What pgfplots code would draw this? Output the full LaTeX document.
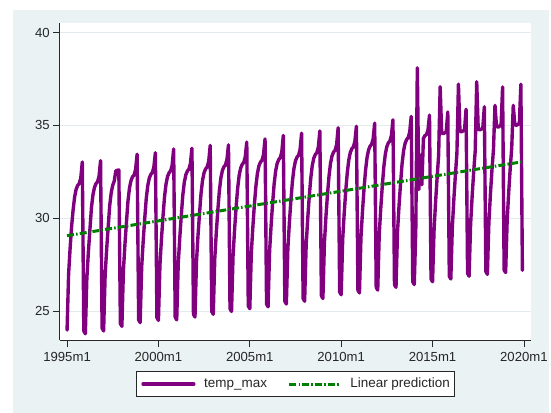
\documentclass[border=0pt]{standalone}
\usepackage{fontspec}
\setmainfont{Liberation Sans}
\usepackage{pgfplots}
\usepackage{pgfplotstable}
\pgfplotsset{compat=1.18}
\definecolor{bgcol}{RGB}{234,242,243}
\definecolor{gridcol}{RGB}{226,236,239}
\definecolor{tspurple}{RGB}{128,0,128}
\definecolor{tsgreen}{RGB}{0,128,0}
\definecolor{axcol}{RGB}{40,40,40}

% monthly temp_max, 1995m1 ... 2019m12 (one year per line)
\pgfplotstableread[row sep=\\]{
v\\
23.98\\26.98\\28.38\\29.58\\30.47\\31.17\\31.57\\31.77\\31.87\\32.17\\33.03\\23.93\\
23.78\\26.78\\28.18\\29.38\\30.56\\31.26\\31.66\\31.86\\31.96\\32.26\\33.10\\24.08\\
23.93\\26.93\\28.33\\29.53\\30.68\\31.38\\31.78\\32.00\\32.55\\32.58\\32.60\\24.33\\
24.18\\27.18\\28.58\\29.78\\30.93\\31.63\\32.03\\32.23\\32.33\\32.63\\33.45\\24.53\\
24.38\\27.38\\28.78\\29.98\\31.06\\31.76\\32.16\\32.36\\32.46\\32.76\\33.53\\24.65\\
24.50\\27.50\\28.90\\30.10\\31.15\\31.85\\32.25\\32.45\\32.55\\32.85\\33.73\\24.68\\
24.53\\27.53\\28.93\\30.13\\31.24\\31.94\\32.34\\32.54\\32.64\\32.94\\33.77\\24.83\\
24.68\\27.68\\29.08\\30.28\\31.36\\32.06\\32.46\\32.66\\32.76\\33.06\\33.92\\24.98\\
24.83\\27.83\\29.23\\30.43\\31.47\\32.17\\32.57\\32.77\\32.87\\33.17\\33.95\\25.13\\
24.98\\27.98\\29.38\\30.58\\31.60\\32.30\\32.70\\32.90\\33.00\\33.30\\34.10\\25.28\\
25.13\\28.13\\29.53\\30.73\\31.72\\32.42\\32.82\\33.02\\33.12\\33.42\\34.27\\25.38\\
25.23\\28.23\\29.63\\30.83\\31.86\\32.56\\32.96\\33.16\\33.26\\33.56\\34.46\\25.53\\
25.38\\28.38\\29.78\\30.98\\31.99\\32.69\\33.09\\33.29\\33.39\\33.69\\34.58\\25.68\\
25.53\\28.53\\29.93\\31.13\\32.13\\32.83\\33.23\\33.43\\33.53\\33.83\\34.70\\25.83\\
25.68\\28.68\\30.08\\31.28\\32.26\\32.96\\33.36\\33.56\\33.66\\33.96\\34.87\\26.03\\
25.88\\28.88\\30.28\\31.48\\32.44\\33.14\\33.54\\33.74\\33.84\\34.14\\34.95\\26.13\\
25.98\\28.98\\30.38\\31.58\\32.58\\33.28\\33.68\\33.88\\33.98\\34.28\\35.12\\26.28\\
26.13\\29.13\\30.53\\31.73\\32.76\\33.46\\33.86\\34.06\\34.16\\34.46\\35.30\\26.43\\
26.28\\29.28\\30.68\\31.88\\32.94\\33.64\\34.04\\34.24\\34.34\\34.64\\35.48\\26.58\\
26.43\\29.40\\38.10\\31.55\\33.40\\31.80\\34.30\\34.45\\34.50\\34.75\\35.55\\26.73\\
26.58\\29.38\\30.88\\32.18\\33.40\\37.08\\34.60\\34.55\\34.60\\34.65\\35.72\\26.88\\
26.73\\29.53\\31.03\\32.33\\33.50\\37.22\\34.70\\34.65\\34.70\\34.75\\35.87\\27.03\\
26.88\\29.68\\31.18\\32.48\\33.60\\37.35\\34.80\\34.75\\34.80\\34.85\\36.00\\27.13\\
26.98\\29.78\\31.28\\32.58\\33.70\\36.08\\34.96\\34.90\\34.96\\35.00\\37.07\\27.20\\
27.08\\29.88\\31.38\\32.68\\33.80\\36.08\\35.05\\35.00\\35.05\\35.10\\37.22\\27.20\\
}\tempmax

\begin{document}
\begin{tikzpicture}[x=1pt,y=1pt]
\fill[white] (0,0) rectangle (551,414);
\fill[bgcol] (12.6,0) rectangle (551,404.2);
\begin{axis}[
  at={(60pt,72.3pt)}, anchor=south west,
  scale only axis, width=473.3pt, height=318.4pt,
  xmin=-4.78, xmax=304.9, ymin=23.42, ymax=40.5,
  axis x line*=bottom, axis y line*=left,
  axis line style={axcol, line width=0.8pt},
  axis background/.style={fill=white},
  xtick={0,60,120,180,240,300},
  xticklabels={1995m1,2000m1,2005m1,2010m1,2015m1,2020m1},
  ytick={25,30,35,40}, yticklabels={25,30,35,40},
  tick align=outside, major tick length=6.6pt,
  tick style={axcol, line width=0.8pt},
  ymajorgrids, major grid style={gridcol, line width=0.9pt},
  ticklabel style={font=\fontsize{13.2}{13.2}\selectfont, text=black!85},
  xticklabel style={yshift=-2pt},
  legend columns=2,
  legend style={at={(0.5,-0.1376)}, anchor=center, draw=black!85, line width=0.8pt,
    fill=white, font=\fontsize{13.5}{13.5}\selectfont, text=black!85,
    inner xsep=5pt, inner ysep=6.3pt,
    nodes={inner sep=0pt, text height=10pt, text depth=3pt},
    /tikz/every odd column/.append style={column sep=8.7pt},
    /tikz/every even column/.append style={column sep=21pt}},
  legend image code/.code={\draw[#1] (0pt,0pt) -- (51pt,0pt);},
]
\addplot[tspurple, line width=3.4pt, line join=round, line cap=round]
  table[x expr=\coordindex, y=v] {\tempmax};
\addlegendentry{temp\_max}
\addplot[tsgreen, line width=3pt, dash pattern=on 7pt off 2.2pt on 1.5pt off 2.2pt]
  coordinates {(0,29.06) (299,33.04)};
\addlegendentry{Linear prediction}
\end{axis}
\end{tikzpicture}
\end{document}
